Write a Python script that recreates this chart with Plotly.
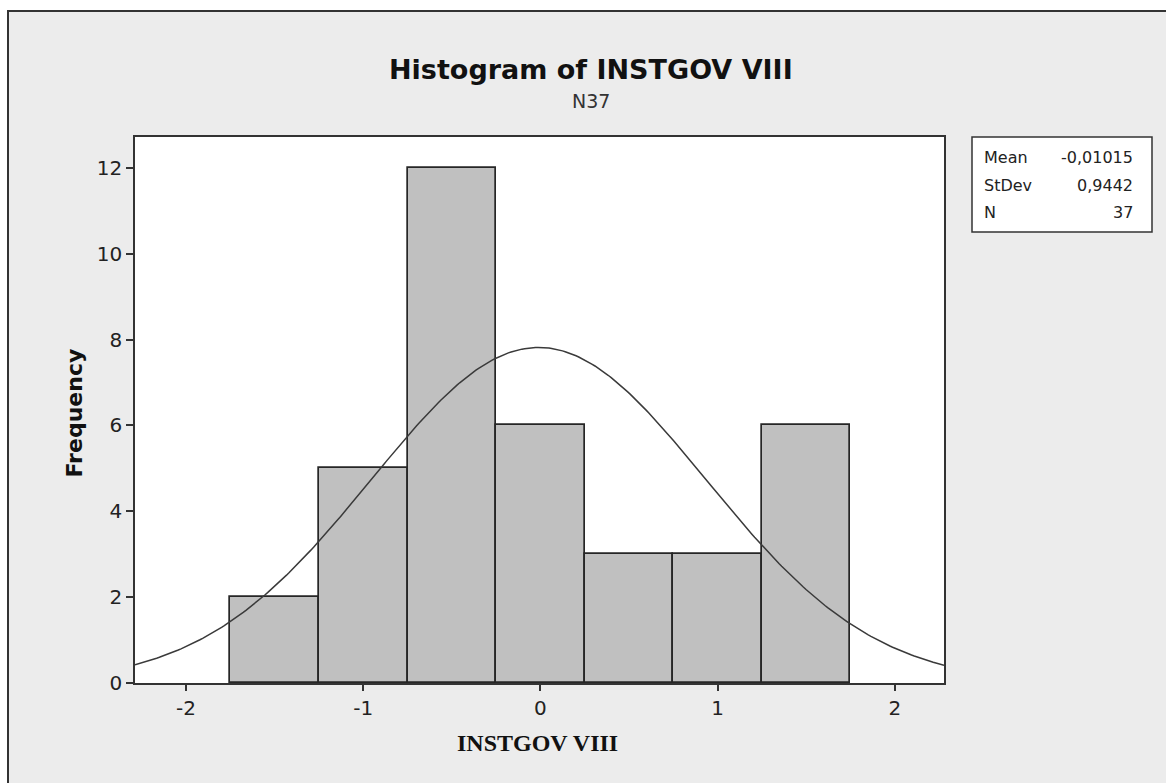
import numpy as np
import plotly.graph_objects as go

# Histogram bins (midpoints, width 0.5) and their frequencies
bin_mids = [-1.5, -1.0, -0.5, 0.0, 0.5, 1.0, 1.5]
counts = [2, 5, 12, 6, 3, 3, 6]
bin_width = 0.5

# Summary statistics shown in the stats box
mean = -0.01015
stdev = 0.9442
n_obs = 37

x_range = [-2.288, 2.278]
y_range = [0, 12.72]

# Fitted normal curve scaled to the histogram counts
xs = np.linspace(x_range[0], x_range[1], 300)
ys = n_obs * bin_width / (stdev * np.sqrt(2 * np.pi)) * np.exp(-0.5 * ((xs - mean) / stdev) ** 2)

fig = go.Figure()
fig.add_trace(go.Bar(
    x=bin_mids, y=counts, width=bin_width,
    marker=dict(color="#c0c0c0", line=dict(color="#262626", width=1.7)),
    hoverinfo="x+y",
))
fig.add_trace(go.Scatter(
    x=xs, y=ys, mode="lines",
    line=dict(color="#3a3a3a", width=1.5),
    hoverinfo="skip",
))

tick_font = dict(family="DejaVu Sans", size=20, color="#222")

fig.update_layout(
    width=1166, height=783,
    margin=dict(l=135, r=222, t=137, b=100),
    paper_bgcolor="white",
    plot_bgcolor="white",
    showlegend=False,
    bargap=0,
    xaxis=dict(
        range=x_range, tickvals=[-2, -1, 0, 1, 2], ticktext=["-2", "-1", "0", "1", "2"],
        ticks="outside", ticklen=6, tickwidth=1.5, tickcolor="#333",
        showgrid=False, zeroline=False, showline=True, linecolor="#333", linewidth=1.6,
        mirror=True, tickfont=tick_font,
    ),
    yaxis=dict(
        range=y_range, tickvals=[0, 2, 4, 6, 8, 10, 12],
        ticks="outside", ticklen=7, tickwidth=1.5, tickcolor="#333",
        showgrid=False, zeroline=False, showline=True, linecolor="#333", linewidth=1.6,
        mirror=True, tickfont=tick_font,
    ),
    shapes=[
        # outer grey panel
        dict(type="rect", xref="paper", yref="paper", layer="below",
             x0=(8 - 135) / 809, x1=(1170 - 135) / 809,
             y0=(683 - 790) / 546, y1=(683 - 11) / 546,
             fillcolor="#ececec", line=dict(color="#333", width=2)),
        # plot area background
        dict(type="rect", xref="paper", yref="paper", layer="below",
             x0=0, x1=1, y0=0, y1=1, fillcolor="white", line=dict(width=0)),
        # stats box
        dict(type="rect", xref="paper", yref="paper",
             x0=(972 - 135) / 809, x1=(1152 - 135) / 809,
             y0=(683 - 232) / 546, y1=(683 - 137) / 546,
             fillcolor="white", line=dict(color="#333", width=1.5)),
    ],
)

def px_x(px):
    return (px - 135) / 809

def px_y(py):
    return (683 - py) / 546

annotations = [
    dict(text="<b>Histogram of INSTGOV VIII</b>", x=px_x(591), y=px_y(69),
         font=dict(family="DejaVu Sans", size=27, color="#111")),
    dict(text="N37", x=px_x(591), y=px_y(101),
         font=dict(family="DejaVu Sans", size=19, color="#333")),
    dict(text="<b>INSTGOV VIII</b>", x=px_x(537), y=px_y(743),
         font=dict(family="Liberation Serif", size=24, color="#111")),
    dict(text="<b>Frequency</b>", x=px_x(59), y=px_y(413), textangle=-90,
         font=dict(family="DejaVu Sans", size=22, color="#111")),
]

stat_labels = ["Mean", "StDev", "N"]
stat_values = ["-0,01015", "0,9442", "37"]
for i, (lab, val) in enumerate(zip(stat_labels, stat_values)):
    yy = px_y(157 + i * 28)
    annotations.append(dict(text=lab, x=px_x(982), y=yy, xanchor="left",
                            font=dict(family="DejaVu Sans", size=16, color="#222")))
    annotations.append(dict(text=val, x=px_x(1135), y=yy, xanchor="right",
                            font=dict(family="DejaVu Sans", size=16, color="#222")))

for a in annotations:
    a.setdefault("xref", "paper")
    a.setdefault("yref", "paper")
    a.setdefault("showarrow", False)
    a.setdefault("yanchor", "middle")
fig.update_layout(annotations=annotations)

fig.write_html("out.html")
